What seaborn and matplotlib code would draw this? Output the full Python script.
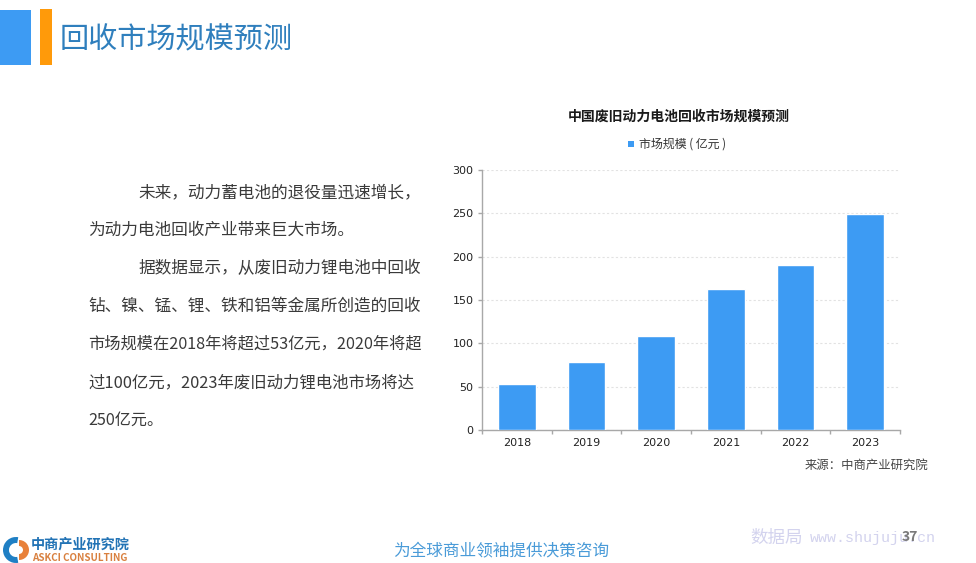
import matplotlib
matplotlib.use('Agg')
import matplotlib.pyplot as plt
from matplotlib.patches import Rectangle, Wedge
import pandas as pd
import seaborn as sns

sns.set_theme(style='white')
plt.rcParams['font.family'] = ['Noto Sans CJK SC', 'DejaVu Sans']

years = ['2018', '2019', '2020', '2021', '2022', '2023']
market_size = [53, 79, 108, 163, 190, 249]
y_ticks = [0, 50, 100, 150, 200, 250, 300]

page_title = '回收市场规模预测'
chart_title = '中国废旧动力电池回收市场规模预测'
legend_label = '市场规模 ( 亿元 )'
source_label = '来源：中商产业研究院'
slogan = '为全球商业领袖提供决策咨询'
body_lines = [
    '未来，动力蓄电池的退役量迅速增长，',
    '为动力电池回收产业带来巨大市场。',
    '据数据显示，从废旧动力锂电池中回收',
    '钻、镍、锰、锂、铁和铝等金属所创造的回收',
    '市场规模在2018年将超过53亿元，2020年将超',
    '过100亿元，2023年废旧动力锂电池市场将达',
    '250亿元。',
]
body_x = [138, 88, 138, 88, 88, 88, 88]
body_y = [192.5, 230.5, 268.5, 306.5, 344.5, 382.5, 420.5]
body_size = [12.0, 12.0, 12.0, 12.0, 11.7, 11.8, 11.6]

BAR_BLUE = '#3d9bf3'
W, H = 976, 563

df = pd.DataFrame({'year': years, 'size': market_size})

fig = plt.figure(figsize=(W / 100, H / 100), dpi=100, facecolor='white')

# page furniture, in pixel coords
page = fig.add_axes([0, 0, 1, 1])
page.set_xlim(0, W)
page.set_ylim(H, 0)
page.axis('off')
page.add_patch(Rectangle((0, 10), 31, 55, color='#3d9bf3', lw=0))
page.add_patch(Rectangle((40, 9), 12, 56, color='#ff9a0a', lw=0))
page.text(60, 40, page_title, fontsize=21, color='#2f7fbd', va='center', ha='left')

for t, x, y, s in zip(body_lines, body_x, body_y, body_size):
    page.text(x, y, t, fontsize=s, color='#3a3a3a', va='center', ha='left')

page.text(679, 117, chart_title, fontsize=10, fontweight='bold', color='#1a1a1a', ha='center', va='center')
page.add_patch(Rectangle((628, 141), 6, 6, color=BAR_BLUE, lw=0))
page.text(639, 144.5, legend_label, fontsize=8.6, color='#333333', ha='left', va='center')
page.text(928, 465.5, source_label, fontsize=8.9, color='#444444', ha='right', va='center')

# logo
page.add_patch(Wedge((16, 550), 13, 80, 280, width=6, color='#1f7fc4', lw=0))
page.add_patch(Wedge((19, 550), 10, -90, 90, width=6, color='#e8813a', lw=0))
page.text(31, 545, '中商产业研究院', fontsize=10.2, fontweight='bold', color='#2273b5', ha='left', va='center')
page.text(32, 558, 'ASKCI CONSULTING', fontsize=7.1, fontweight='bold', color='#d9803f', ha='left', va='center')

# footer
page.text(501, 551, slogan, fontsize=12, color='#4a9bd8', ha='center', va='center')
page.text(750, 538, '数据局', fontsize=12.6, color='#d3d3ee', ha='left', va='center')
page.text(810, 538, 'www.shujuju.cn', fontsize=10.8, family=['Liberation Mono'], color='#d3d3ee', ha='left', va='center')
page.text(910, 537, '37', fontsize=10, fontweight='bold', color='#7a7a7a', ha='center', va='center')

# chart
ax = fig.add_axes([482 / W, 1 - 430 / H, 418 / W, 260 / H])
ax.patch.set_alpha(0)
sns.barplot(data=df, x='year', y='size', color=BAR_BLUE, saturation=1, width=0.545, ax=ax, zorder=3)
ax.set_xlim(-0.5, 5.5)
ax.set_ylim(0, 300)
ax.set_yticks(y_ticks)
ax.set_xlabel('')
ax.set_ylabel('')
ax.yaxis.grid(True, color='#e2e2e2', linestyle=(0, (2, 2)), linewidth=0.8)
ax.xaxis.grid(False)
ax.set_axisbelow(True)
for side in ['top', 'right']:
    ax.spines[side].set_visible(False)
for side in ['left', 'bottom']:
    ax.spines[side].set_color('#a8a8a8')
    ax.spines[side].set_linewidth(1)
ax.set_xticks([i - 0.5 for i in range(7)], minor=True)
ax.tick_params(axis='x', which='major', length=0, labelsize=8, labelcolor='#222222', pad=6)
ax.tick_params(axis='x', which='minor', length=3, color='#a8a8a8', width=1, bottom=True)
ax.tick_params(axis='y', length=3, color='#a8a8a8', width=1, left=True, labelsize=8, labelcolor='#222222', pad=3)
for lab in ax.get_xticklabels() + ax.get_yticklabels():
    lab.set_family('DejaVu Sans')

fig.savefig('out.png', dpi=100)
